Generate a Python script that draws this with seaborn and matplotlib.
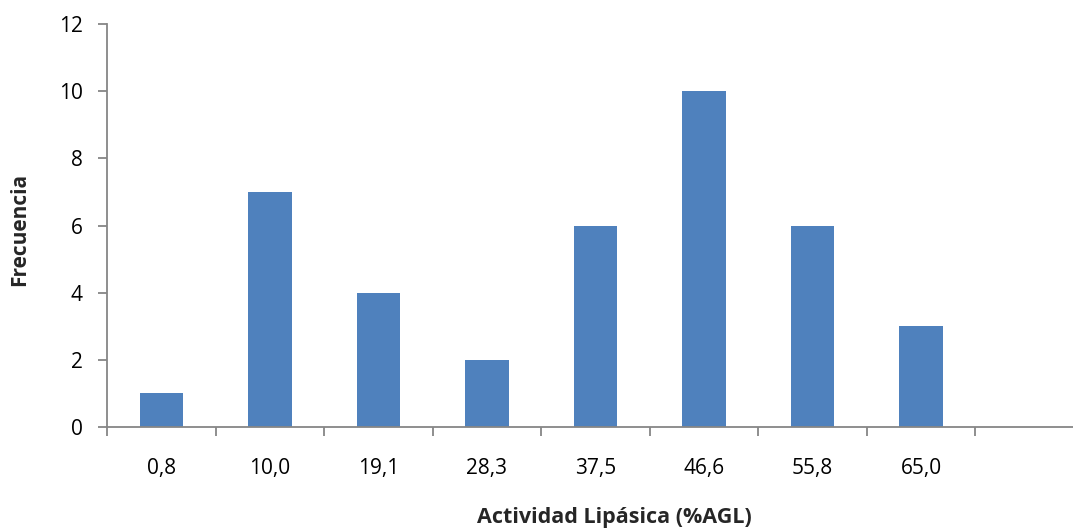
import matplotlib
matplotlib.use("Agg")
import matplotlib.pyplot as plt
import seaborn as sns
import pandas as pd
import numpy as np
from matplotlib.ticker import FixedLocator, NullFormatter

categories = ["0,8", "10,0", "19,1", "28,3", "37,5", "46,6", "55,8", "65,0"]
frequencies = [1, 7, 4, 2, 6, 10, 6, 3]
y_ticks = [0, 2, 4, 6, 8, 10, 12]

sns.set_theme(style="white")
plt.rcParams["font.family"] = ["Open Sans", "DejaVu Sans"]

df = pd.DataFrame({"cat": categories, "freq": frequencies})

fig = plt.figure(figsize=(10.73, 5.31), dpi=100)
ax = fig.add_axes([107 / 1073, 1 - 427 / 531, 1 - 107 / 1073, (427 - 24) / 531])

sns.barplot(data=df, x="cat", y="freq", order=categories, color="#4F81BD",
            saturation=1, width=0.4, ax=ax, edgecolor="none")

ax.set_xlim(-0.5, 8.4)
ax.set_ylim(0, 12)
ax.set_yticks(y_ticks)
ax.set_yticklabels([str(v) for v in y_ticks], fontsize=15, color="black")

ax.tick_params(axis="x", which="major", length=0, pad=22, labelsize=15, labelcolor="black")
ax.xaxis.set_minor_locator(FixedLocator(np.arange(-0.5, 8.0, 1.0)))
ax.xaxis.set_minor_formatter(NullFormatter())
ax.tick_params(axis="x", which="minor", length=6.5, width=1.3, color="#868686", bottom=True)
ax.tick_params(axis="y", length=6.5, width=1.3, color="#868686", left=True, pad=11)

for s in ["top", "right"]:
    ax.spines[s].set_visible(False)
for s in ["left", "bottom"]:
    ax.spines[s].set_color("#868686")
    ax.spines[s].set_linewidth(1.3)

ax.set_xlabel("")
ax.set_ylabel("")
fig.text(614 / 1073, 1 - 518 / 531, "Actividad Lipásica (%AGL)", fontsize=15.5,
         fontweight="bold", ha="center", va="center")
fig.text(20 / 1073, 1 - 229 / 531, "Frecuencia", fontsize=15, fontweight="bold",
         ha="center", va="center", rotation=90)

fig.savefig("out.png", dpi=100)
